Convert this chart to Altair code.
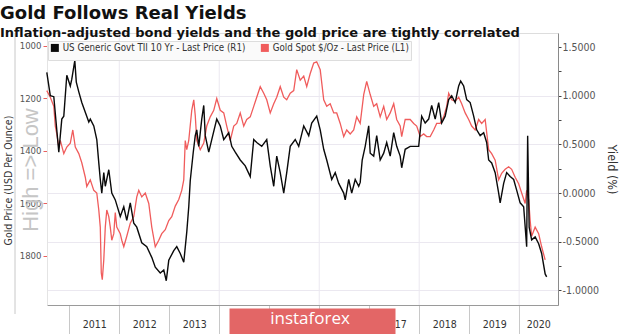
import altair as alt
import pandas as pd

# ---- values ----
# US Generic Govt TII 10 Yr (real yield, %), decimal year
tips_year = [2010.55, 2010.62, 2010.69, 2010.79, 2010.85, 2010.89, 2010.95, 2011.02, 2011.05, 2011.11,
             2011.14, 2011.19, 2011.25, 2011.32, 2011.39, 2011.42, 2011.49, 2011.55, 2011.59, 2011.62,
             2011.65, 2011.69, 2011.72, 2011.79, 2011.85, 2011.92, 2012.02, 2012.09, 2012.15, 2012.22,
             2012.29, 2012.35, 2012.45, 2012.55, 2012.65, 2012.72, 2012.82, 2012.89, 2012.94, 2012.99,
             2013.09, 2013.15, 2013.22, 2013.29, 2013.35, 2013.39, 2013.42, 2013.48, 2013.52, 2013.55,
             2013.59, 2013.65, 2013.69, 2013.72, 2013.79, 2013.85, 2013.95, 2014.02, 2014.09, 2014.19,
             2014.25, 2014.32, 2014.42, 2014.52, 2014.62, 2014.69, 2014.75, 2014.85, 2014.95, 2015.02,
             2015.09, 2015.15, 2015.22, 2015.29, 2015.35, 2015.42, 2015.52, 2015.59, 2015.69, 2015.79,
             2015.85, 2015.95, 2016.02, 2016.09, 2016.15, 2016.25, 2016.32, 2016.39, 2016.49, 2016.52,
             2016.59, 2016.65, 2016.72, 2016.79, 2016.82, 2016.86, 2016.92, 2016.99, 2017.02, 2017.09,
             2017.15, 2017.22, 2017.29, 2017.35, 2017.42, 2017.49, 2017.55, 2017.62, 2017.65, 2017.72,
             2017.82, 2017.92, 2017.99, 2018.05, 2018.12, 2018.19, 2018.25, 2018.32, 2018.39, 2018.45,
             2018.52, 2018.59, 2018.65, 2018.72, 2018.79, 2018.83, 2018.89, 2018.95, 2019.02, 2019.09,
             2019.15, 2019.22, 2019.29, 2019.35, 2019.39, 2019.45, 2019.52, 2019.59, 2019.62, 2019.69,
             2019.75, 2019.82, 2019.89, 2019.95, 2020.02, 2020.09, 2020.15, 2020.17, 2020.20, 2020.25,
             2020.32, 2020.39, 2020.45, 2020.52, 2020.55]
tips_yield = [1.24, 1.00, 0.99, 0.42, 0.76, 0.79, 1.21, 1.10, 1.17, 1.36,
              1.14, 1.04, 0.93, 0.83, 0.73, 0.76, 0.69, 0.55, 0.31, 0.14,
              0.00, 0.21, 0.07, 0.24, 0.00, -0.07, -0.24, -0.14, -0.28, -0.10,
              -0.31, -0.35, -0.51, -0.55, -0.66, -0.76, -0.82, -0.79, -0.90, -0.69,
              -0.59, -0.55, -0.62, -0.71, -0.40, -0.14, 0.13, 0.42, 0.59, 0.65,
              0.48, 0.76, 0.90, 0.59, 0.42, 0.55, 0.76, 0.69, 0.55, 0.62,
              0.48, 0.42, 0.34, 0.28, 0.17, 0.55, 0.52, 0.48, 0.55, 0.28,
              0.07, 0.38, 0.21, 0.00, 0.21, 0.48, 0.55, 0.48, 0.69, 0.59,
              0.72, 0.79, 0.65, 0.45, 0.34, 0.14, 0.21, 0.10, 0.00, -0.07,
              0.14, 0.00, 0.14, 0.07, 0.11, 0.34, 0.48, 0.69, 0.41, 0.38,
              0.59, 0.34, 0.41, 0.52, 0.38, 0.62, 0.48, 0.38, 0.26, 0.45,
              0.48, 0.48, 0.48, 0.79, 0.72, 0.76, 0.90, 0.76, 0.93, 0.72,
              0.79, 0.96, 1.00, 0.93, 1.10, 1.15, 1.10, 0.96, 0.93, 0.79,
              0.65, 0.59, 0.62, 0.52, 0.34, 0.31, 0.21, 0.00, -0.10, 0.10,
              0.21, 0.17, 0.14, 0.03, -0.10, -0.14, -0.55, 0.59, -0.35, -0.48,
              -0.45, -0.52, -0.62, -0.83, -0.86]

# Gold Spot $/Oz, decimal year
gold_year = [2010.55, 2010.62, 2010.69, 2010.72, 2010.75, 2010.79, 2010.82, 2010.89, 2010.95, 2011.02,
             2011.07, 2011.12, 2011.19, 2011.25, 2011.32, 2011.35, 2011.42, 2011.49, 2011.55, 2011.59,
             2011.62, 2011.64, 2011.66, 2011.69, 2011.72, 2011.75, 2011.79, 2011.82, 2011.85, 2011.89,
             2011.92, 2011.95, 2012.02, 2012.05, 2012.09, 2012.15, 2012.22, 2012.29, 2012.35, 2012.39,
             2012.45, 2012.52, 2012.59, 2012.65, 2012.72, 2012.79, 2012.85, 2012.92, 2012.99, 2013.05,
             2013.12, 2013.19, 2013.25, 2013.29, 2013.32, 2013.35, 2013.39, 2013.45, 2013.49, 2013.52,
             2013.55, 2013.62, 2013.69, 2013.75, 2013.82, 2013.89, 2013.95, 2014.02, 2014.09, 2014.15,
             2014.22, 2014.29, 2014.35, 2014.42, 2014.49, 2014.55, 2014.62, 2014.69, 2014.75, 2014.82,
             2014.89, 2014.95, 2015.02, 2015.09, 2015.15, 2015.22, 2015.29, 2015.35, 2015.42, 2015.49,
             2015.55, 2015.62, 2015.69, 2015.75, 2015.82, 2015.89, 2015.95, 2016.02, 2016.09, 2016.15,
             2016.22, 2016.29, 2016.35, 2016.42, 2016.49, 2016.55, 2016.62, 2016.69, 2016.75, 2016.82,
             2016.89, 2016.95, 2017.02, 2017.09, 2017.15, 2017.22, 2017.29, 2017.35, 2017.42, 2017.49,
             2017.55, 2017.62, 2017.65, 2017.72, 2017.82, 2017.89, 2017.95, 2018.02, 2018.09, 2018.15,
             2018.22, 2018.29, 2018.35, 2018.42, 2018.49, 2018.55, 2018.59, 2018.65, 2018.72, 2018.79,
             2018.85, 2018.92, 2018.99, 2019.05, 2019.12, 2019.19, 2019.25, 2019.32, 2019.39, 2019.45,
             2019.52, 2019.59, 2019.65, 2019.72, 2019.79, 2019.85, 2019.92, 2019.99, 2020.05, 2020.12,
             2020.15, 2020.19, 2020.22, 2020.25, 2020.32, 2020.39, 2020.45, 2020.52]
gold_price = [1170, 1195, 1230, 1305, 1335, 1385, 1360, 1410, 1385, 1370,
              1320, 1385, 1410, 1445, 1500, 1535, 1510, 1550, 1560, 1625,
              1690, 1865, 1890, 1815, 1690, 1625, 1650, 1690, 1740, 1715,
              1635, 1690, 1715, 1740, 1765, 1725, 1675, 1650, 1575, 1550,
              1575, 1560, 1600, 1690, 1765, 1740, 1715, 1700, 1665, 1650,
              1610, 1585, 1550, 1510, 1360, 1395, 1360, 1245, 1205, 1265,
              1360, 1395, 1370, 1305, 1270, 1245, 1200, 1245, 1255, 1305,
              1360, 1305, 1295, 1255, 1305, 1280, 1270, 1230, 1195, 1155,
              1180, 1205, 1255, 1220, 1195, 1155, 1195, 1205, 1180, 1170,
              1090, 1130, 1115, 1155, 1105, 1065, 1060, 1090, 1205, 1230,
              1220, 1255, 1255, 1295, 1345, 1320, 1335, 1320, 1270, 1295,
              1185, 1135, 1185, 1230, 1220, 1270, 1230, 1280, 1255, 1220,
              1280, 1305, 1345, 1280, 1280, 1295, 1305, 1345, 1335, 1345,
              1345, 1320, 1295, 1295, 1270, 1230, 1180, 1205, 1210, 1195,
              1220, 1255, 1280, 1305, 1320, 1280, 1295, 1280, 1395, 1410,
              1435, 1510, 1485, 1470, 1460, 1470, 1500, 1525, 1560, 1600,
              1550, 1585, 1665, 1725, 1690, 1715, 1765, 1815]

series_names = ["US Generic Govt TII 10 Yr - Last Price (R1)", "Gold Spot $/Oz - Last Price (L1)"]
year_ticks = [2011, 2012, 2013, 2014, 2015, 2016, 2017, 2018, 2019, 2020]
year_label_pos = [2011.5, 2012.5, 2013.5, 2014.5, 2015.5, 2016.5, 2017.5, 2018.5, 2019.5, 2020.38]
grid_years = [2012, 2014, 2016, 2018, 2020]
gold_ticks = [1000, 1200, 1400, 1600, 1800]
yield_ticks = [-1.0, -0.75, -0.5, -0.25, 0.0, 0.25, 0.5, 0.75, 1.0, 1.25, 1.5]

X_DOMAIN = [2010.554, 2020.777]
YIELD_DOMAIN = [-1.149, 1.644]
GOLD_DOMAIN = [950.5, 1986.8]

BLACK = "#0a0a0a"
RED = "#f05c5c"
FONT = "DejaVu Sans Condensed, DejaVu Sans, sans-serif"
TITLE_FONT = "DejaVu Sans"

W, H = 511, 272

tips_df = pd.DataFrame({"year": tips_year, "value": tips_yield, "series": series_names[0]})
gold_df = pd.DataFrame({"year": gold_year, "value": gold_price, "series": series_names[1]})

xscale = alt.Scale(domain=X_DOMAIN, nice=False, zero=False)
color_scale = alt.Scale(domain=series_names, range=[BLACK, RED])

legend = alt.Legend(title=None, orient="none", legendX=1, legendY=8, direction="horizontal",
                    symbolType="square", symbolSize=16, symbolStrokeWidth=4,
                    labelFontSize=9.7, labelColor="#333333", labelFont=FONT, labelLimit=400,
                    fillColor="#fafafa", strokeColor="#dddddd", padding=2, columnPadding=8,
                    labelOffset=3)

sep_axis = alt.Axis(orient="bottom", values=year_ticks, labels=False, tickSize=29, tickColor="#c8c8c8",
                    domain=True, domainColor="#9a9a9a", grid=False, title=None)
label_axis = alt.Axis(orient="bottom", values=year_label_pos, labelExpr="floor(datum.value)",
                      ticks=False, domain=False, grid=False, labelPadding=14, labelFontSize=10.5,
                      labelColor="#333333", labelFont=FONT, title=None)
gold_axis = alt.Axis(orient="left", values=gold_ticks, format="d", labelColor="#555555",
                     labelFontSize=9.5, labelFont=FONT, tickColor="#e8605f", tickSize=4, labelPadding=2,
                     domain=True, domainColor="#e4e4e4", grid=False,
                     title="Gold Price (USD Per Ounce)", titleFontSize=10.5, titleFontWeight="normal",
                     titleFont=FONT, titleColor="#333333", titlePadding=6, titleY=147)
major_test = "abs(datum.value*2 - round(datum.value*2)) < 0.001"
yield_axis = alt.Axis(orient="right", values=yield_ticks,
                      labelExpr=major_test + " ? replace(format(datum.value, '.4f'), '\u2212', '-') : ''",
                      labelColor="#555555", labelFontSize=10.5, labelFont=FONT,
                      tickColor="#444444", tickSize=3, labelPadding=1,
                      domain=True, domainColor="#8a8a8a", grid=True, gridColor="#ebe8f0",
                      gridOpacity={"condition": {"test": major_test + " && datum.value < 1.4", "value": 1}, "value": 0},
                      title="Yield (%)", titleFontSize=12.5, titleFontWeight="normal",
                      titleFont=FONT, titleColor="#333333", titlePadding=6)

vgrid = alt.Chart(pd.DataFrame({"year": grid_years})).mark_rule(color="#ebe8f0", strokeWidth=1).encode(
    x=alt.X("year:Q", scale=xscale, axis=sep_axis)
)

gold_line = alt.Chart(gold_df).mark_line(strokeWidth=1.3).encode(
    x=alt.X("year:Q", scale=xscale, axis=label_axis),
    y=alt.Y("value:Q", scale=alt.Scale(domain=GOLD_DOMAIN, reverse=True, nice=False, zero=False), axis=gold_axis),
    color=alt.Color("series:N", scale=color_scale, legend=legend),
)

tips_line = alt.Chart(tips_df).mark_line(strokeWidth=1.4).encode(
    x=alt.X("year:Q", scale=xscale, axis=None),
    y=alt.Y("value:Q", scale=alt.Scale(domain=YIELD_DOMAIN, nice=False, zero=False), axis=yield_axis),
    color=alt.Color("series:N", scale=color_scale, legend=legend),
)

one = pd.DataFrame({"t": ["High => Low"], "w": ["instaforex"]})

high_low = alt.Chart(one).mark_text(angle=270, fontSize=22, color="#c6c6c6", font="Liberation Sans").encode(
    x=alt.value(-16), y=alt.value(137), text="t:N"
)
left_line = alt.Chart(one).mark_rule(color="#c8c8c8", strokeWidth=1).encode(
    x=alt.value(-32), y=alt.value(0), y2=alt.value(281)
)
wm_rect = alt.Chart(one).mark_rect(color="#e36666").encode(
    x=alt.value(182.5), x2=alt.value(348.5), y=alt.value(275.5), y2=alt.value(301)
)
wm_text = alt.Chart(one).mark_text(color="white", fontSize=17, font="Open Sans").encode(
    x=alt.value(263), y=alt.value(286), text="w:N"
)

chart = alt.layer(vgrid, gold_line, tips_line, left_line, high_low, wm_rect, wm_text).resolve_scale(
    y="independent"
).resolve_axis(
    x="independent", y="independent"
).properties(
    width=W, height=H,
    autosize=alt.AutoSizeParams(type="none"),
    padding={"left": 47, "top": 33, "right": 62, "bottom": 29},
    title=alt.TitleParams(
        text="Gold Follows Real Yields",
        subtitle="Inflation-adjusted bond yields and the gold price are tightly correlated",
        anchor="start", frame="group", dx=-47, dy=7, offset=0,
        font=TITLE_FONT, fontSize=18, fontWeight="bold", color="#111111",
        subtitleFont=TITLE_FONT, subtitleFontSize=13, subtitleFontWeight="bold", subtitleColor="#111111",
        subtitlePadding=4,
    ),
).configure_view(stroke=None).configure(background="white")

chart.save("out.html", embed_options={"renderer": "svg", "actions": False})
